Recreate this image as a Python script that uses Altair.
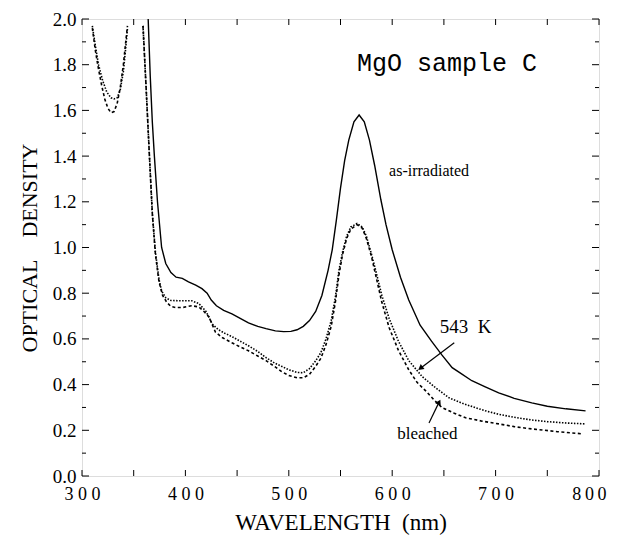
import altair as alt
import pandas as pd

# ---------------- data ----------------
irr_nm = [364, 366, 368, 370, 373, 377, 381, 386, 391, 397, 403, 410, 416, 421, 425, 430, 437,
          445, 453, 461, 470, 478, 487, 495, 502, 508, 514, 520, 526, 532, 538, 542, 546, 550,
          554, 558, 563, 568, 573, 578, 583, 589, 594, 600, 608, 616, 627, 638, 648, 658, 666,
          677, 690, 703, 718, 735, 750, 768, 787]
irr_od = [2.00, 1.75, 1.55, 1.40, 1.20, 1.00, 0.93, 0.89, 0.87, 0.865, 0.85, 0.835, 0.82, 0.80,
          0.77, 0.745, 0.725, 0.71, 0.69, 0.67, 0.655, 0.645, 0.635, 0.632, 0.633, 0.64, 0.655,
          0.68, 0.72, 0.79, 0.90, 0.99, 1.12, 1.26, 1.38, 1.47, 1.55, 1.58, 1.55, 1.47, 1.36,
          1.21, 1.10, 0.99, 0.87, 0.77, 0.66, 0.59, 0.53, 0.474, 0.45, 0.417, 0.39, 0.364, 0.34,
          0.32, 0.305, 0.294, 0.285]

k543_left_nm = [310, 313, 316, 320, 324, 328, 331, 334, 337, 340, 342, 344]
k543_left_od = [1.97, 1.88, 1.80, 1.73, 1.68, 1.655, 1.65, 1.655, 1.69, 1.77, 1.86, 1.96]
k543_nm = [359, 362, 365, 368, 371, 374.5, 377, 381, 386, 395, 406, 413, 420, 426, 432, 438,
           445, 453, 461, 470, 478, 486, 493, 500, 508, 514, 520, 526, 531, 536, 541, 545, 548.5,
           552, 556, 560, 566, 571, 575, 580, 584, 590, 597, 606, 616, 629, 642, 655, 668, 681,
           692, 703, 718, 735, 750, 768, 787]
k543_od = [1.97, 1.70, 1.42, 1.15, 0.98, 0.86, 0.81, 0.78, 0.768, 0.767, 0.767, 0.755, 0.72,
           0.665, 0.64, 0.625, 0.61, 0.59, 0.57, 0.545, 0.518, 0.495, 0.48, 0.465, 0.453, 0.452,
           0.47, 0.504, 0.54, 0.60, 0.68, 0.78, 0.90, 0.98, 1.05, 1.09, 1.105, 1.09, 1.05, 0.97,
           0.90, 0.79, 0.69, 0.59, 0.505, 0.435, 0.386, 0.342, 0.318, 0.298, 0.283, 0.27, 0.257,
           0.245, 0.238, 0.232, 0.228]

bl_left_nm = [310, 313, 316, 319, 322, 325, 328, 331, 334, 337, 340, 343, 344]
bl_left_od = [1.96, 1.86, 1.78, 1.71, 1.65, 1.61, 1.59, 1.595, 1.63, 1.70, 1.80, 1.93, 1.97]
bl_nm = [359, 362, 365, 368, 371, 374.5, 378, 382, 386, 391, 398, 406, 413, 418, 423, 429, 436,
         445, 453, 461, 470, 478, 486, 493, 500, 508, 514, 520, 526, 531, 536, 541, 545, 548.5,
         552, 556, 560, 566, 571, 575, 580, 584, 590, 597, 606, 616, 624, 633, 640, 648, 660,
         671, 687, 703, 718, 735, 760, 783]
bl_od = [1.97, 1.70, 1.42, 1.15, 0.97, 0.85, 0.79, 0.76, 0.742, 0.737, 0.738, 0.745, 0.74, 0.72,
         0.695, 0.63, 0.605, 0.583, 0.565, 0.548, 0.525, 0.505, 0.48, 0.457, 0.44, 0.43, 0.43,
         0.445, 0.48, 0.515, 0.575, 0.655, 0.76, 0.88, 0.97, 1.04, 1.08, 1.10, 1.085, 1.04, 0.96,
         0.88, 0.76, 0.65, 0.55, 0.465, 0.41, 0.37, 0.335, 0.30, 0.275, 0.255, 0.24, 0.228, 0.216,
         0.206, 0.194, 0.185]

x_ticks_major = [300, 400, 500, 600, 700, 800]
x_ticks_minor = [350, 450, 550, 650, 750]
y_ticks_major = [0.0, 0.2, 0.4, 0.6, 0.8, 1.0, 1.2, 1.4, 1.6, 1.8, 2.0]
y_ticks_minor = [0.1, 0.3, 0.5, 0.7, 0.9, 1.1, 1.3, 1.5, 1.7, 1.9]

labels_text = ["as-irradiated", "543\u00a0\u00a0K", "bleached"]
labels_nm = [597, 671, 634]
labels_od = [1.336, 0.65, 0.184]

arrow_nm = [660, 635.6]
arrow_od = [0.583, 0.232]
arrow_nm2 = [628, 645]
arrow_od2 = [0.474, 0.32]
arrow_angle = [233, 27]

W, H = 517, 457
SERIF = "Liberation Serif"
NB = "\u00a0"

xs = alt.Scale(domain=[300, 800], nice=False)
ys = alt.Scale(domain=[0, 2.0], nice=False)

def seg_df(pairs):
    rows = []
    for seg, (nms, ods) in enumerate(pairs):
        for a, b in zip(nms, ods):
            rows.append({"nm": a, "od": b, "seg": seg})
    return pd.DataFrame(rows)

df_irr = seg_df([(irr_nm, irr_od)])
df_543 = seg_df([(k543_left_nm, k543_left_od), (k543_nm, k543_od)])
df_bl = seg_df([(bl_left_nm, bl_left_od), (bl_nm, bl_od)])

xaxis = alt.Axis(values=x_ticks_major, ticks=False, domain=False, grid=False,
                 labelFont=SERIF, labelFontSize=18, labelPadding=9, labelColor="black",
                 labelFlush=False, labelOverlap=False,
                 labelAlign={"condition": {"test": "datum.value >= 800", "value": "right"}, "value": "center"},
                 labelOffset={"condition": {"test": "datum.value >= 800", "value": 7}, "value": 0},
                 labelExpr="datum.value >= 800 ? '8\u20090\u20090' : substring(datum.label,0,1)+' '+substring(datum.label,1,2)+' '+substring(datum.label,2,3)",
                 title="WAVELENGTH" + NB * 2 + "(nm)", titleFont=SERIF, titleFontSize=23,
                 titleFontWeight="normal", titlePadding=8, titleColor="black")
yaxis = alt.Axis(values=y_ticks_major, format=".1f", ticks=False, domain=False, grid=False,
                 labelFont=SERIF, labelFontSize=19, labelPadding=6, labelColor="black",
                 labelFlush=False, labelOverlap=False,
                 title="OPTICAL" + NB * 4 + "DENSITY", titleFont=SERIF, titleFontSize=22,
                 titleFontWeight="normal", titlePadding=11, titleColor="black")

def line(df, dash=None, width=1.5):
    kw = dict(color="black", strokeWidth=width, clip=True)
    if dash:
        kw["strokeDash"] = dash
    return alt.Chart(df).mark_line(**kw).encode(
        x=alt.X("nm:Q", scale=xs, axis=xaxis),
        y=alt.Y("od:Q", scale=ys, axis=yaxis),
        detail="seg:N",
        order="nm:Q",
    )

l_irr = line(df_irr, None, 1.4)
l_543 = line(df_543, [1.5, 1.5], 1.6)
l_bl = line(df_bl, [3, 2.5], 1.6)

# inside ticks
def xticks(vals, length, top):
    d = pd.DataFrame({"nm": vals})
    if top:
        return alt.Chart(d).mark_rule(color="black", strokeWidth=1).encode(
            x=alt.X("nm:Q", scale=xs), y=alt.value(0), y2=alt.value(length))
    return alt.Chart(d).mark_rule(color="black", strokeWidth=1).encode(
        x=alt.X("nm:Q", scale=xs), y=alt.value(H), y2=alt.value(H - length))

def yticks(vals, length, right):
    d = pd.DataFrame({"od": vals})
    if right:
        return alt.Chart(d).mark_rule(color="black", strokeWidth=1).encode(
            y=alt.Y("od:Q", scale=ys), x=alt.value(W), x2=alt.value(W - length))
    return alt.Chart(d).mark_rule(color="black", strokeWidth=1).encode(
        y=alt.Y("od:Q", scale=ys), x=alt.value(0), x2=alt.value(length))

ticks = [xticks(x_ticks_major + x_ticks_minor, 6, False), xticks(x_ticks_major + x_ticks_minor, 6, True),
         yticks(y_ticks_major, 7, False), yticks(y_ticks_minor, 4, False),
         yticks(y_ticks_major, 7, True), yticks(y_ticks_minor, 4, True)]

title_df = pd.DataFrame({"nm": [653], "od": [1.807], "t": ["MgO sample C"]})
title_txt = alt.Chart(title_df).mark_text(font="Liberation Mono", fontSize=25, align="center",
                                          baseline="middle", color="black").encode(
    x=alt.X("nm:Q", scale=xs), y=alt.Y("od:Q", scale=ys), text="t:N")

lab_df = pd.DataFrame({"nm": labels_nm, "od": labels_od, "t": labels_text})
lab1 = alt.Chart(lab_df.iloc[[0]]).mark_text(font=SERIF, fontSize=16, align="left",
                                             baseline="middle", color="black").encode(
    x=alt.X("nm:Q", scale=xs), y=alt.Y("od:Q", scale=ys), text="t:N")
lab2 = alt.Chart(lab_df.iloc[[1]]).mark_text(font=SERIF, fontSize=19, align="center",
                                             baseline="middle", color="black").encode(
    x=alt.X("nm:Q", scale=xs), y=alt.Y("od:Q", scale=ys), text="t:N")
lab3 = alt.Chart(lab_df.iloc[[2]]).mark_text(font=SERIF, fontSize=17, align="center",
                                             baseline="middle", color="black").encode(
    x=alt.X("nm:Q", scale=xs), y=alt.Y("od:Q", scale=ys), text="t:N")

arr_df = pd.DataFrame({"nm": arrow_nm, "od": arrow_od, "nm2": arrow_nm2, "od2": arrow_od2,
                       "ang": arrow_angle})
arr_line = alt.Chart(arr_df).mark_rule(color="black", strokeWidth=1.2).encode(
    x=alt.X("nm:Q", scale=xs), y=alt.Y("od:Q", scale=ys), x2="nm2:Q", y2="od2:Q")
arr_head = alt.Chart(arr_df).mark_point(shape="triangle", filled=True, color="black", size=40,
                                        opacity=1).encode(
    x=alt.X("nm2:Q", scale=xs), y=alt.Y("od2:Q", scale=ys), angle=alt.Angle("ang:Q", scale=None))

chart = alt.layer(l_irr, l_543, l_bl, *ticks, title_txt, lab1, lab2, lab3, arr_line, arr_head).properties(
    width=W, height=H,
    autosize=alt.AutoSizeParams(type="none"),
    padding={"left": 74, "top": 11, "right": 11, "bottom": 60},
).configure_view(stroke="black", strokeWidth=1.5).configure(background="white")

chart.save("out.html", embed_options={"renderer": "svg", "actions": False})
